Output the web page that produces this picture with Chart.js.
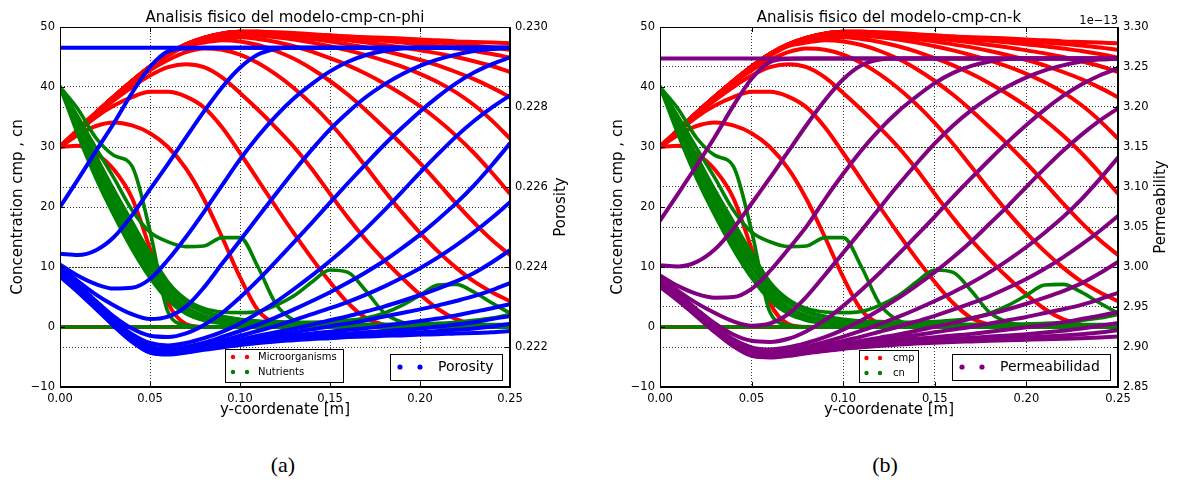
<!DOCTYPE html>
<html>
<head>
<meta charset="utf-8">
<script src="https://cdn.jsdelivr.net/npm/chart.js@4.4.1/dist/chart.umd.min.js"></script>
<style>
  body { margin: 0; background: #fff; width: 1177px; height: 484px; position: relative; overflow: hidden; }
  canvas { position: absolute; top: 0; }
  #chartPhi { left: 0; }
  #chartK { left: 600px; }
  .cap { position: absolute; top: 452px; width: 80px; text-align: center; font-family: "Liberation Serif", serif; font-size: 22px; }
</style>
</head>
<body>
<canvas id="chartPhi" width="600" height="440" style="width:600px;height:440px"></canvas>
<canvas id="chartK" width="577" height="440" style="width:577px;height:440px"></canvas>
<div class="cap" style="left:243px">(a)</div>
<div class="cap" style="left:845px">(b)</div>
<script>
// y-coordinate samples [m]
const xs = [0, 0.01, 0.02, 0.03, 0.04, 0.05, 0.06, 0.07, 0.08, 0.09, 0.10, 0.11, 0.12, 0.13,
            0.14, 0.15, 0.16, 0.17, 0.18, 0.19, 0.20, 0.21, 0.22, 0.23, 0.24, 0.25];

const xTicks = [0, 0.05, 0.10, 0.15, 0.20, 0.25];
const concTicks = [-10, 0, 10, 20, 30, 40, 50];
const phiTicks = [0.222, 0.224, 0.226, 0.228, 0.230];
const kTicks = [2.85, 2.90, 2.95, 3.00, 3.05, 3.10, 3.15, 3.20, 3.25, 3.30];

//#region microorganisms cmp (one profile per time)
const cmp0 = [0, 0, 0, 0, 0, 0, 0, 0, 0, 0, 0, 0, 0, 0, 0, 0, 0, 0, 0, 0, 0, 0, 0, 0, 0, 0];
const cmp1 = [30, 30.2, 28.9, 26.2, 21.5, 13, 4, 0.5, 0, 0, 0, 0, 0, 0, 0, 0, 0, 0, 0, 0, 0, 0, 0, 0, 0, 0];
const cmp2 = [30, 32, 33.5, 34.1, 33.6, 32.3, 30, 26.4, 21.3, 15, 8.3, 2.8, 0.5, 0, 0, 0, 0, 0, 0, 0, 0, 0, 0, 0, 0, 0];
const cmp3 = [30, 32.6, 35, 36.9, 38.3, 39.2, 39.2, 38.4, 36.6, 33.3, 29, 24.5, 20, 15.6, 11.4, 7.5, 4, 1.5, 0.4, 0.1, 0, 0, 0, 0, 0, 0];
const cmp4 = [30, 32.8, 35.4, 37.8, 40, 41.9, 43.3, 43.8, 43.3, 41.6, 39, 36.2, 33.2, 30, 26.3, 22.2, 18.2, 14.5, 11.2, 8.2, 5.4, 3, 1.3, 0.4, 0.1, 0];
const cmp5 = [30, 32.9, 35.7, 38.3, 40.7, 42.8, 44.5, 45.8, 46.4, 46.2, 45.4, 44, 42.1, 39.8, 37.1, 34, 30.5, 26.7, 22.8, 19.1, 15.7, 12.6, 9.9, 7.6, 5.8, 4.3];
const cmp6 = [30, 32.9, 35.7, 38.4, 40.9, 43.2, 45.2, 46.8, 47.4, 47.8, 47.6, 47, 46, 44.7, 43, 41, 38.7, 36.1, 33.3, 30.4, 27.3, 24, 20.6, 17.4, 14.5, 12];
const cmp7 = [30, 32.9, 35.7, 38.4, 41, 43.4, 45.4, 47, 47.9, 48.3, 48.3, 48, 47.5, 46.8, 45.9, 44.8, 43.6, 42.2, 40.6, 38.8, 36.8, 34.5, 31.9, 29, 25.7, 22.2];
const cmp8 = [30, 32.9, 35.7, 38.4, 41, 43.4, 45.5, 47.1, 48.2, 48.7, 48.8, 48.6, 48.3, 47.9, 47.4, 46.8, 46.1, 45.3, 44.4, 43.4, 42.2, 40.8, 39.1, 37, 34.4, 31.4];
const cmp9 = [30, 32.9, 35.7, 38.4, 41, 43.4, 45.5, 47.1, 48.2, 48.9, 49.1, 48.9, 48.7, 48.4, 48, 47.6, 47.1, 46.6, 46, 45.3, 44.5, 43.6, 42.5, 41.3, 39.9, 38.3];
const cmp10 = [30, 32.9, 35.7, 38.4, 41, 43.4, 45.5, 47.1, 48.2, 48.9, 49.2, 49.1, 48.9, 48.7, 48.4, 48.1, 47.8, 47.4, 47, 46.6, 46.1, 45.6, 45, 44.3, 43.5, 42.5];
const cmp11 = [30, 32.9, 35.7, 38.4, 41, 43.4, 45.5, 47.1, 48.2, 48.9, 49.2, 49.2, 49, 48.8, 48.6, 48.4, 48.2, 47.9, 47.7, 47.4, 47.1, 46.8, 46.4, 46, 45.5, 44.9];
const cmp12 = [30, 32.9, 35.7, 38.4, 41, 43.4, 45.5, 47.1, 48.2, 48.9, 49.2, 49.2, 49.1, 48.9, 48.7, 48.6, 48.4, 48.2, 48, 47.8, 47.6, 47.4, 47.2, 46.9, 46.6, 46.2];
const cmp13 = [30, 32.9, 35.7, 38.4, 41, 43.4, 45.5, 47.1, 48.2, 48.9, 49.2, 49.2, 49.1, 49, 48.8, 48.6, 48.4, 48.3, 48.2, 48.1, 47.9, 47.8, 47.6, 47.5, 47.4, 47.3];
//#endregion

//#region nutrients cn
const cn0 = [0, 0, 0, 0, 0, 0, 0, 0, 0, 0, 0, 0, 0, 0, 0, 0, 0, 0, 0, 0, 0, 0, 0, 0, 0, 0];
const cn1 = [40, 36.3, 31.5, 28.6, 26.8, 16, 2.5, 0.3, 0, 0, 0, 0, 0, 0, 0, 0, 0, 0, 0, 0, 0, 0, 0, 0, 0, 0];
const cn2 = [40, 35, 29.8, 24.8, 19.5, 15.8, 14.2, 13.4, 13.5, 14.9, 14.9, 10, 3.8, 1.1, 0.3, 0.1, 0, 0, 0, 0, 0, 0, 0, 0, 0, 0];
const cn3 = [40, 34.5, 28.5, 22.8, 17.5, 12.3, 7.5, 4.6, 3.1, 2.5, 2.4, 2.6, 3.6, 5.2, 7.5, 9.5, 9.1, 6.0, 2.4, 0.8, 0.3, 0.2, 0.2, 0.2, 0.2, 0.2];
const cn4 = [40, 34.2, 28, 22.2, 16.8, 11.7, 7.1, 4.2, 2.6, 1.8, 1.3, 1.0, 0.9, 0.8, 0.8, 0.9, 1.1, 1.5, 2.3, 3.6, 5.3, 7.0, 7.1, 5.8, 4.0, 2.3];
const cn5 = [40, 33.8, 27.5, 21.5, 16, 11, 6.8, 4, 2.5, 1.7, 1.2, 0.9, 0.7, 0.6, 0.5, 0.45, 0.4, 0.4, 0.4, 0.45, 0.5, 0.6, 0.8, 1.1, 1.5, 2.1];
const cn6 = [40, 33.2, 26.5, 20.5, 15, 10, 6, 3.3, 1.9, 1.2, 0.8, 0.6, 0.5, 0.45, 0.4, 0.4, 0.4, 0.4, 0.4, 0.4, 0.4, 0.4, 0.4, 0.4, 0.4, 0.4];
const cn7 = [40, 32.6, 25.6, 19.5, 14, 9, 5.2, 2.7, 1.4, 0.8, 0.5, 0.4, 0.35, 0.3, 0.3, 0.3, 0.3, 0.3, 0.3, 0.3, 0.3, 0.3, 0.3, 0.3, 0.3, 0.3];
const cn8 = [40, 32, 24.8, 18.6, 13, 8.2, 4.5, 2.2, 1.1, 0.6, 0.4, 0.3, 0.3, 0.25, 0.25, 0.25, 0.25, 0.25, 0.25, 0.25, 0.25, 0.25, 0.25, 0.25, 0.25, 0.25];
//#endregion

//#region porosity phi
const phiFlat = [0.22948, 0.22948, 0.22948, 0.22948, 0.22948, 0.22948, 0.22948, 0.22948, 0.22948, 0.22948, 0.22948, 0.22948, 0.22948,
                 0.22948, 0.22948, 0.22948, 0.22948, 0.22948, 0.22948, 0.22948, 0.22948, 0.22948, 0.22948, 0.22948, 0.22948, 0.22948];
const phi0 = [0.22550, 0.22619, 0.22690, 0.22760, 0.22835, 0.22900, 0.22939, 0.22946, 0.22948, 0.22948, 0.22948, 0.22948, 0.22948,
              0.22948, 0.22948, 0.22948, 0.22948, 0.22948, 0.22948, 0.22948, 0.22948, 0.22948, 0.22948, 0.22948, 0.22948, 0.22948];
const phi1 = [0.22433, 0.22430, 0.22442, 0.22475, 0.22529, 0.22594, 0.22658, 0.22724, 0.22789, 0.22849, 0.22898, 0.22931, 0.22945,
              0.22948, 0.22948, 0.22948, 0.22948, 0.22948, 0.22948, 0.22948, 0.22948, 0.22948, 0.22948, 0.22948, 0.22948, 0.22948];
const phi2 = [0.22406, 0.22378, 0.22357, 0.22346, 0.22348, 0.22370, 0.22418, 0.22475, 0.22538, 0.22604, 0.22669, 0.22727, 0.22778,
              0.22822, 0.22858, 0.22889, 0.22913, 0.22930, 0.22940, 0.22946, 0.22948, 0.22948, 0.22948, 0.22948, 0.22948, 0.22948];
const phi3 = [0.22403, 0.22364, 0.22331, 0.22304, 0.22282, 0.22270, 0.22276, 0.22301, 0.22349, 0.22408, 0.22466, 0.22525, 0.22583,
              0.22640, 0.22694, 0.22744, 0.22787, 0.22825, 0.22856, 0.22882, 0.22903, 0.22919, 0.22931, 0.22940, 0.22945, 0.22948];
const phi4 = [0.22399, 0.22357, 0.22315, 0.22276, 0.22246, 0.22228, 0.22225, 0.22234, 0.22255, 0.22285, 0.22324, 0.22367, 0.22414,
              0.22462, 0.22511, 0.22561, 0.22610, 0.22658, 0.22705, 0.22748, 0.22789, 0.22826, 0.22859, 0.22886, 0.22907, 0.22924];
const phi5 = [0.22394, 0.22352, 0.22309, 0.22267, 0.22232, 0.22210, 0.22204, 0.22210, 0.22222, 0.22238, 0.22259, 0.22285, 0.22313,
              0.22345, 0.22379, 0.22415, 0.22454, 0.22496, 0.22541, 0.22588, 0.22636, 0.22682, 0.22726, 0.22765, 0.22799, 0.22829];
const phi6 = [0.22391, 0.22349, 0.22304, 0.22262, 0.22226, 0.22201, 0.22195, 0.22201, 0.22211, 0.22225, 0.22240, 0.22256, 0.22274,
              0.22294, 0.22315, 0.22337, 0.22361, 0.22387, 0.22415, 0.22447, 0.22481, 0.22519, 0.22559, 0.22604, 0.22655, 0.22709];
const phi7 = [0.22388, 0.22346, 0.22303, 0.22259, 0.22222, 0.22196, 0.22190, 0.22196, 0.22205, 0.22216, 0.22228, 0.22240, 0.22253,
              0.22267, 0.22282, 0.22297, 0.22313, 0.22331, 0.22351, 0.22373, 0.22397, 0.22424, 0.22454, 0.22487, 0.22523, 0.22562];
const phi8 = [0.22385, 0.22345, 0.22301, 0.22258, 0.22220, 0.22193, 0.22187, 0.22193, 0.22201, 0.22210, 0.22219, 0.22228, 0.22237,
              0.22246, 0.22256, 0.22267, 0.22277, 0.22289, 0.22301, 0.22315, 0.22330, 0.22346, 0.22364, 0.22385, 0.22412, 0.22442];
const phi9 = [0.22382, 0.22343, 0.22300, 0.22256, 0.22219, 0.22192, 0.22186, 0.22192, 0.22199, 0.22207, 0.22214, 0.22222, 0.22229,
              0.22237, 0.22244, 0.22252, 0.22259, 0.22267, 0.22276, 0.22285, 0.22294, 0.22304, 0.22315, 0.22327, 0.22342, 0.22360];
const phi10 = [0.22381, 0.22342, 0.22300, 0.22256, 0.22217, 0.22190, 0.22184, 0.22190, 0.22198, 0.22205, 0.22211, 0.22217, 0.22223,
               0.22229, 0.22234, 0.22238, 0.22243, 0.22247, 0.22253, 0.22259, 0.22265, 0.22271, 0.22279, 0.22288, 0.22297, 0.22307];
const phi11 = [0.22379, 0.22340, 0.22298, 0.22255, 0.22216, 0.22189, 0.22183, 0.22189, 0.22196, 0.22202, 0.22208, 0.22214, 0.22219,
               0.22223, 0.22228, 0.22231, 0.22234, 0.22237, 0.22240, 0.22243, 0.22246, 0.22251, 0.22256, 0.22262, 0.22270, 0.22277];
const phi12 = [0.22378, 0.22339, 0.22297, 0.22253, 0.22214, 0.22187, 0.22183, 0.22187, 0.22195, 0.22201, 0.22207, 0.22211, 0.22216,
               0.22220, 0.22223, 0.22226, 0.22228, 0.22231, 0.22233, 0.22235, 0.22237, 0.22240, 0.22243, 0.22246, 0.22251, 0.22258];
const phi13 = [0.22376, 0.22337, 0.22295, 0.22252, 0.22213, 0.22186, 0.22181, 0.22186, 0.22193, 0.22199, 0.22205, 0.22210, 0.22214,
               0.22217, 0.22220, 0.22222, 0.22225, 0.22226, 0.22228, 0.22229, 0.22231, 0.22232, 0.22234, 0.22235, 0.22237, 0.22240];
//#endregion

//#region permeability k (x 1e-13)
const kFlat = [3.2605, 3.2605, 3.2605, 3.2605, 3.2605, 3.2605, 3.2605, 3.2605, 3.2605, 3.2605, 3.2605, 3.2605, 3.2605,
               3.2605, 3.2605, 3.2605, 3.2605, 3.2605, 3.2605, 3.2605, 3.2605, 3.2605, 3.2605, 3.2605, 3.2605, 3.2605];
const k0 = [3.0579, 3.0920, 3.1269, 3.1629, 3.2014, 3.2354, 3.2561, 3.2601, 3.2605, 3.2605, 3.2605, 3.2605, 3.2605,
            3.2605, 3.2605, 3.2605, 3.2605, 3.2605, 3.2605, 3.2605, 3.2605, 3.2605, 3.2605, 3.2605, 3.2605, 3.2605];
const k1 = [3.0021, 3.0007, 3.0064, 3.0222, 3.0479, 3.0794, 3.1113, 3.1444, 3.1775, 3.2083, 3.2346, 3.2521, 3.2593,
            3.2605, 3.2605, 3.2605, 3.2605, 3.2605, 3.2605, 3.2605, 3.2605, 3.2605, 3.2605, 3.2605, 3.2605, 3.2605];
const k2 = [2.9893, 2.9761, 2.9665, 2.9617, 2.9624, 2.9727, 2.9950, 3.0222, 3.0507, 3.0846, 3.1165, 3.1460, 3.1721,
            3.1945, 3.2131, 3.2298, 3.2426, 3.2513, 3.2569, 3.2601, 3.2605, 3.2605, 3.2605, 3.2605, 3.2605, 3.2605];
const k3 = [2.9878, 2.9699, 2.9548, 2.9424, 2.9321, 2.9266, 2.9294, 2.9411, 2.9630, 2.9900, 3.0179, 3.0457, 3.0742,
            3.1024, 3.1291, 3.1544, 3.1768, 3.1960, 3.2123, 3.2258, 3.2370, 3.2458, 3.2521, 3.2569, 3.2593, 3.2605];
const k4 = [2.9857, 2.9665, 2.9472, 2.9294, 2.9157, 2.9077, 2.9063, 2.9103, 2.9198, 2.9335, 2.9514, 2.9713, 2.9928,
            3.0157, 3.0393, 3.0631, 3.0876, 3.1113, 3.1344, 3.1567, 3.1775, 3.1968, 3.2139, 3.2282, 3.2394, 3.2482];
const k5 = [2.9837, 2.9644, 2.9445, 2.9253, 2.9097, 2.8996, 2.8969, 2.8996, 2.9050, 2.9123, 2.9218, 2.9335, 2.9466,
            2.9610, 2.9768, 2.9936, 3.0121, 3.0322, 3.0543, 3.0765, 3.1002, 3.1232, 3.1452, 3.1652, 3.1829, 3.1983];
const k6 = [2.9823, 2.9630, 2.9424, 2.9232, 2.9070, 2.8956, 2.8929, 2.8956, 2.9003, 2.9063, 2.9130, 2.9204, 2.9287,
            2.9376, 2.9472, 2.9575, 2.9685, 2.9802, 2.9936, 3.0086, 3.0250, 3.0429, 3.0624, 3.0846, 3.1098, 3.1367];
const k7 = [2.9809, 2.9617, 2.9417, 2.9218, 2.9050, 2.8936, 2.8909, 2.8936, 2.8976, 2.9023, 2.9077, 2.9130, 2.9191,
            2.9253, 2.9321, 2.9390, 2.9466, 2.9548, 2.9637, 2.9740, 2.9850, 2.9978, 3.0121, 3.0279, 3.0450, 3.0638];
const k8 = [2.9795, 2.9610, 2.9411, 2.9211, 2.9043, 2.8922, 2.8896, 2.8922, 2.8956, 2.8996, 2.9036, 2.9077, 2.9117,
            2.9157, 2.9204, 2.9253, 2.9301, 2.9356, 2.9411, 2.9472, 2.9541, 2.9617, 2.9699, 2.9795, 2.9921, 3.0064];
const k9 = [2.9782, 2.9603, 2.9404, 2.9204, 2.9036, 2.8916, 2.8889, 2.8916, 2.8949, 2.8983, 2.9016, 2.9050, 2.9083,
            2.9117, 2.9150, 2.9184, 2.9218, 2.9253, 2.9294, 2.9335, 2.9376, 2.9424, 2.9472, 2.9527, 2.9596, 2.9678];
const k10 = [2.9775, 2.9596, 2.9404, 2.9204, 2.9030, 2.8909, 2.8882, 2.8909, 2.8943, 2.8976, 2.9003, 2.9030, 2.9056,
             2.9083, 2.9103, 2.9123, 2.9144, 2.9164, 2.9191, 2.9218, 2.9246, 2.9273, 2.9308, 2.9349, 2.9390, 2.9438];
const k11 = [2.9768, 2.9589, 2.9397, 2.9198, 2.9023, 2.8902, 2.8876, 2.8902, 2.8936, 2.8963, 2.8989, 2.9016, 2.9036,
             2.9056, 2.9077, 2.9090, 2.9103, 2.9117, 2.9130, 2.9144, 2.9160, 2.9180, 2.9204, 2.9232, 2.9266, 2.9301];
const k12 = [2.9761, 2.9582, 2.9390, 2.9191, 2.9016, 2.8896, 2.8876, 2.8896, 2.8929, 2.8956, 2.8983, 2.9003, 2.9023,
             2.9043, 2.9056, 2.9070, 2.9080, 2.9090, 2.9100, 2.9110, 2.9120, 2.9130, 2.9144, 2.9160, 2.9180, 2.9211];
const k13 = [2.9754, 2.9575, 2.9383, 2.9184, 2.9010, 2.8889, 2.8869, 2.8889, 2.8922, 2.8949, 2.8976, 2.8996, 2.9016,
             2.9030, 2.9043, 2.9053, 2.9063, 2.9070, 2.9077, 2.9083, 2.9090, 2.9097, 2.9103, 2.9110, 2.9120, 2.9130];
//#endregion

const cmpCurves = [cmp0, cmp1, cmp2, cmp3, cmp4, cmp5, cmp6, cmp7, cmp8, cmp9, cmp10, cmp11, cmp12, cmp13];
const cnCurves = [cn0, cn1, cn2, cn3, cn4, cn5, cn6, cn7, cn8];
const phiCurves = [phiFlat, phi0, phi1, phi2, phi3, phi4, phi5, phi6, phi7, phi8, phi9, phi10, phi11, phi12, phi13];
const kCurves = [kFlat, k0, k1, k2, k3, k4, k5, k6, k7, k8, k9, k10, k11, k12, k13];

const RED = '#ff0000', GREEN = '#008000', BLUE = '#0000ff', PURPLE = '#800080';
const FONT = '"DejaVu Sans", sans-serif';

function pts(vals) {
    return xs.map((x, i) => ({ x: x, y: vals[i] }));
}

function curveSets(list, color, axis, base, width) {
    return list.map((vals, k) => ({
        data: pts(vals),
        borderColor: color,
        backgroundColor: color,
        borderWidth: width,
        yAxisID: axis,
        order: base - k
    }));
}

function minusFmt(v) {
    return v < 0 ? '\u2212' + Math.abs(v) : String(v);
}

// frame, inward ticks, title, axis labels and the two legend boxes
function makeDecor(cfg) {
    return {
        id: 'decor',
        afterDraw(chart) {
            const { ctx, chartArea: a, scales } = chart;
            ctx.save();
            ctx.strokeStyle = '#000';
            ctx.lineWidth = 1;
            ctx.beginPath();
            xTicks.forEach(v => {
                const px = Math.round(scales.x.getPixelForValue(v)) + 0.5;
                ctx.moveTo(px, a.bottom); ctx.lineTo(px, a.bottom - 5);
                ctx.moveTo(px, a.top); ctx.lineTo(px, a.top + 5);
            });
            concTicks.forEach(v => {
                const py = Math.round(scales.y.getPixelForValue(v)) + 0.5;
                ctx.moveTo(a.left, py); ctx.lineTo(a.left + 5, py);
            });
            cfg.rightTicks.forEach(v => {
                const py = Math.round(scales.y2.getPixelForValue(v)) + 0.5;
                ctx.moveTo(a.right, py); ctx.lineTo(a.right - 5, py);
            });
            ctx.stroke();
            ctx.strokeRect(a.left + 0.5, a.top + 0.5, a.right - a.left - 1, a.bottom - a.top - 1);

            const cx = (a.left + a.right) / 2;
            const cy = (a.top + a.bottom) / 2;
            ctx.fillStyle = '#000';
            ctx.font = '15px ' + FONT;
            ctx.textAlign = 'center';
            ctx.textBaseline = 'alphabetic';
            ctx.fillText(cfg.title, cx, 22);
            ctx.textBaseline = 'middle';
            ctx.fillText('y-coordenate [m]', cx, 410);

            ctx.save();
            ctx.translate(18, cy);
            ctx.rotate(-Math.PI / 2);
            ctx.fillText('Concentration cmp , cn', 0, 0);
            ctx.restore();
            ctx.save();
            ctx.translate(561, cy);
            ctx.rotate(-Math.PI / 2);
            ctx.fillText(cfg.rightLabel, 0, 0);
            ctx.restore();

            if (cfg.offsetText) {
                ctx.font = '11.5px ' + FONT;
                ctx.textAlign = 'right';
                ctx.textBaseline = 'alphabetic';
                ctx.fillText(cfg.offsetText, a.right, 24);
            }

            // small legend
            const s = cfg.small;
            ctx.fillStyle = '#fff';
            ctx.fillRect(s.x, s.y, s.w, s.h);
            ctx.strokeRect(s.x + 0.5, s.y + 0.5, s.w, s.h);
            ctx.font = '10px ' + FONT;
            ctx.textAlign = 'left';
            ctx.textBaseline = 'middle';
            s.items.forEach((it, i) => {
                const yy = s.y + 8 + i * 15;
                ctx.fillStyle = it.color;
                [s.dot1, s.dot2].forEach(dx => {
                    ctx.beginPath(); ctx.arc(dx, yy, 2.2, 0, Math.PI * 2); ctx.fill();
                });
                ctx.fillStyle = '#000';
                ctx.fillText(it.label, s.text, yy);
            });

            // big legend
            const b = cfg.big;
            ctx.fillStyle = '#fff';
            ctx.fillRect(b.x, b.y, b.w, b.h);
            ctx.strokeRect(b.x + 0.5, b.y + 0.5, b.w, b.h);
            ctx.fillStyle = b.color;
            [b.dot1, b.dot2].forEach(dx => {
                ctx.beginPath(); ctx.arc(dx, b.y + 13, 2.6, 0, Math.PI * 2); ctx.fill();
            });
            ctx.fillStyle = '#000';
            ctx.font = '14px ' + FONT;
            ctx.fillText(b.label, b.text, b.y + 13);
            ctx.restore();
        }
    };
}

function buildChart(canvasId, cfg) {
    const datasets = [
        ...curveSets(cmpCurves, RED, 'y', 300, 4),
        ...curveSets(cnCurves, GREEN, 'y', 200, 3.6),
        ...curveSets(cfg.rightCurves, cfg.rightColor, 'y2', 100, 4)
    ];
    const tickFont = { family: FONT, size: 11.5 };
    const gridOpts = { color: '#000', lineWidth: 0.8, drawTicks: false };
    const borderOpts = { display: true, color: '#000', width: 1, dash: [1, 2] };

    new Chart(document.getElementById(canvasId), {
        type: 'line',
        data: { datasets: datasets },
        options: {
            responsive: false,
            animation: false,
            events: [],
            layout: { padding: { top: 27, left: 0, right: 0, bottom: 0 } },
            elements: {
                point: { radius: 0, hoverRadius: 0 },
                line: { cubicInterpolationMode: 'monotone', borderCapStyle: 'round', borderJoinStyle: 'round', fill: false }
            },
            scales: {
                x: {
                    type: 'linear', position: 'bottom', min: 0, max: 0.25,
                    afterBuildTicks: s => { s.ticks = xTicks.map(v => ({ value: v })); },
                    afterFit: s => { s.height = 53; },
                    ticks: { callback: v => v.toFixed(2), font: tickFont, color: '#000', padding: 5, maxRotation: 0, autoSkip: false },
                    grid: gridOpts, border: borderOpts
                },
                y: {
                    type: 'linear', position: 'left', min: -10, max: 50,
                    afterBuildTicks: s => { s.ticks = concTicks.map(v => ({ value: v })); },
                    afterFit: s => { s.width = 60; },
                    ticks: { callback: v => minusFmt(v), font: tickFont, color: '#000', padding: 5, autoSkip: false },
                    grid: gridOpts, border: borderOpts
                },
                y2: {
                    type: 'linear', position: 'right', min: cfg.rightMin, max: cfg.rightMax,
                    afterBuildTicks: s => { s.ticks = cfg.rightTicks.map(v => ({ value: v })); },
                    afterFit: s => { s.width = cfg.rightWidth; },
                    ticks: { callback: v => v.toFixed(cfg.rightDigits), font: tickFont, color: '#000', padding: 5, autoSkip: false },
                    grid: gridOpts, border: borderOpts
                }
            },
            plugins: { legend: { display: false }, tooltip: { enabled: false }, title: { display: false } }
        },
        plugins: [makeDecor(cfg)]
    });
}

buildChart('chartPhi', {
    title: 'Analisis fisico del modelo-cmp-cn-phi',
    rightLabel: 'Porosity',
    rightCurves: phiCurves, rightColor: BLUE,
    rightMin: 0.221, rightMax: 0.230, rightTicks: phiTicks, rightDigits: 3, rightWidth: 90,
    small: { x: 225, y: 349, w: 118, h: 33, dot1: 233, dot2: 247, text: 258,
             items: [{ label: 'Microorganisms', color: RED }, { label: 'Nutrients', color: GREEN }] },
    big: { x: 390, y: 354, w: 112, h: 26, dot1: 400, dot2: 420, text: 438, label: 'Porosity', color: BLUE }
});

buildChart('chartK', {
    title: 'Analisis fisico del modelo-cmp-cn-k',
    rightLabel: 'Permeability',
    offsetText: '1e\u221213',
    rightCurves: kCurves, rightColor: PURPLE,
    rightMin: 2.85, rightMax: 3.30, rightTicks: kTicks, rightDigits: 2, rightWidth: 59,
    small: { x: 259, y: 350, w: 59, h: 32, dot1: 266.5, dot2: 280, text: 293,
             items: [{ label: 'cmp', color: RED }, { label: 'cn', color: GREEN }] },
    big: { x: 352, y: 354, w: 158, h: 26, dot1: 362, dot2: 382, text: 400, label: 'Permeabilidad', color: PURPLE }
});
</script>
</body>
</html>
